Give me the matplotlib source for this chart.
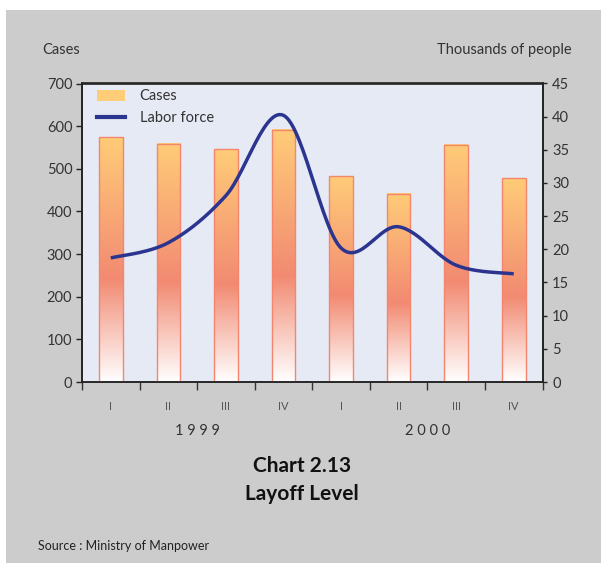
import numpy as np
import matplotlib
matplotlib.use("Agg")
import matplotlib.pyplot as plt
from matplotlib.colors import LinearSegmentedColormap
from matplotlib.patches import Rectangle, Patch
from matplotlib.lines import Line2D

quarters = ["I", "II", "III", "IV", "I", "II", "III", "IV"]
years = ["1 9 9 9", "2 0 0 0"]
cases = [574, 559, 546, 591, 483, 441, 556, 478]
labor_force = [18.7, 21.0, 28.1, 40.2, 20.2, 23.4, 17.6, 16.3]

plt.rcParams['font.family'] = ['Lato', 'DejaVu Sans']

fig = plt.figure(figsize=(6.01, 5.63), dpi=100)
fig.patch.set_facecolor('white')
fig.patches.append(Rectangle((6/601, 0), 1, 1 - 10/563, transform=fig.transFigure,
                             facecolor='#CCCCCC', edgecolor='none', zorder=-10))

ax = fig.add_axes([82/601, 181/563, 460.5/601, 298.5/563])
ax.set_facecolor('#E6EAF5')
x = np.arange(len(cases))

cmap = LinearSegmentedColormap.from_list('bar', [(0, '#FFFFFF'), (0.42, '#F28A72'), (1, '#FFCC78')])
bars = ax.bar(x, cases, width=0.41, facecolor='none', edgecolor='#F4866E', linewidth=1.0, zorder=3)
grad = np.linspace(0, 1, 256).reshape(-1, 1)
for b in bars:
    x0, y0 = b.get_x(), b.get_y()
    w, h = b.get_width(), b.get_height()
    ax.imshow(grad, cmap=cmap, origin='lower', aspect='auto',
              extent=(x0, x0 + w, y0, y0 + h), zorder=2, interpolation='bilinear')
ax.set_xlim(-0.5, len(cases) - 0.5)
ax.set_ylim(0, 700)

ax.set_yticks(np.arange(0, 701, 100))
ax.tick_params(axis='y', direction='out', length=4, width=1, colors='#222222',
               labelcolor='#333333', labelsize=10.5, pad=3)
ax.set_xticks(np.arange(-0.5, len(cases), 1.0))
ax.set_xticklabels([])
ax.tick_params(axis='x', direction='out', length=6, width=1, colors='#333333')
for xi, q in zip(x, quarters):
    ax.text(xi, -0.082, q, transform=ax.get_xaxis_transform(), ha='center', va='center',
            fontsize=8, color='#555555')
ax.text(1.5, -0.165, years[0], transform=ax.get_xaxis_transform(), ha='center', va='center',
        fontsize=10.5, color='#333333')
ax.text(5.5, -0.165, years[1], transform=ax.get_xaxis_transform(), ha='center', va='center',
        fontsize=10.5, color='#333333')
for s in ax.spines.values():
    s.set_color('#222222')
    s.set_linewidth(1.2)
ax.spines['bottom'].set_color('#444444')

ax2 = ax.twinx()
ax2.set_ylim(0, 45)
ax2.set_yticks(np.arange(0, 46, 5))
ax2.tick_params(axis='y', direction='out', length=3, width=1, colors='#222222',
                labelcolor='#333333', labelsize=10.5, pad=4)

# smoothed (Catmull-Rom) line through the data points
def smooth(xs, ys, n=30):
    xs = np.asarray(xs, float); ys = np.asarray(ys, float)
    px = np.concatenate([[xs[0]], xs, [xs[-1]]])
    py = np.concatenate([[ys[0]], ys, [ys[-1]]])
    ox, oy = [], []
    for i in range(1, len(px) - 2):
        t = np.linspace(0, 1, n)
        for arr, out in ((px, ox), (py, oy)):
            p0, p1, p2, p3 = arr[i-1], arr[i], arr[i+1], arr[i+2]
            out.extend(0.5 * ((2*p1) + (-p0 + p2)*t + (2*p0 - 5*p1 + 4*p2 - p3)*t**2
                              + (-p0 + 3*p1 - 3*p2 + p3)*t**3))
    return np.array(ox), np.array(oy)

sx, sy = smooth(x, labor_force)
ax2.plot(sx, sy, color='#2B3590', linewidth=2.5, solid_capstyle='butt', zorder=5)
for s in ax2.spines.values():
    s.set_color('#222222')
    s.set_linewidth(1.2)

handles = [Patch(facecolor='#FFCC78', edgecolor='none'),
           Line2D([0], [0], color='#2B3590', linewidth=3)]
ax2.legend(handles, ['Cases', 'Labor force'], loc='upper left', frameon=False,
           fontsize=10.5, bbox_to_anchor=(0.005, 1.025), handlelength=1.9,
           handleheight=0.8, labelspacing=0.55, handletextpad=1.0, labelcolor='#333333')

fig.text(42/601, 1 - 50/563, 'Cases', ha='left', va='center', fontsize=10.5, color='#333333')
fig.text(572/601, 1 - 50/563, 'Thousands of people', ha='right', va='center', fontsize=10.5, color='#333333')
fig.text(302/601, 1 - 466/563, 'Chart 2.13', ha='center', va='center', fontsize=15,
         fontweight='bold', color='#111111')
fig.text(302/601, 1 - 494/563, 'Layoff Level', ha='center', va='center', fontsize=15,
         fontweight='bold', color='#111111')
fig.text(38/601, 1 - 546/563, 'Source : Ministry of Manpower', ha='left', va='center',
         fontsize=9, color='#222222')

fig.savefig('out.png', dpi=100, facecolor=fig.get_facecolor())
